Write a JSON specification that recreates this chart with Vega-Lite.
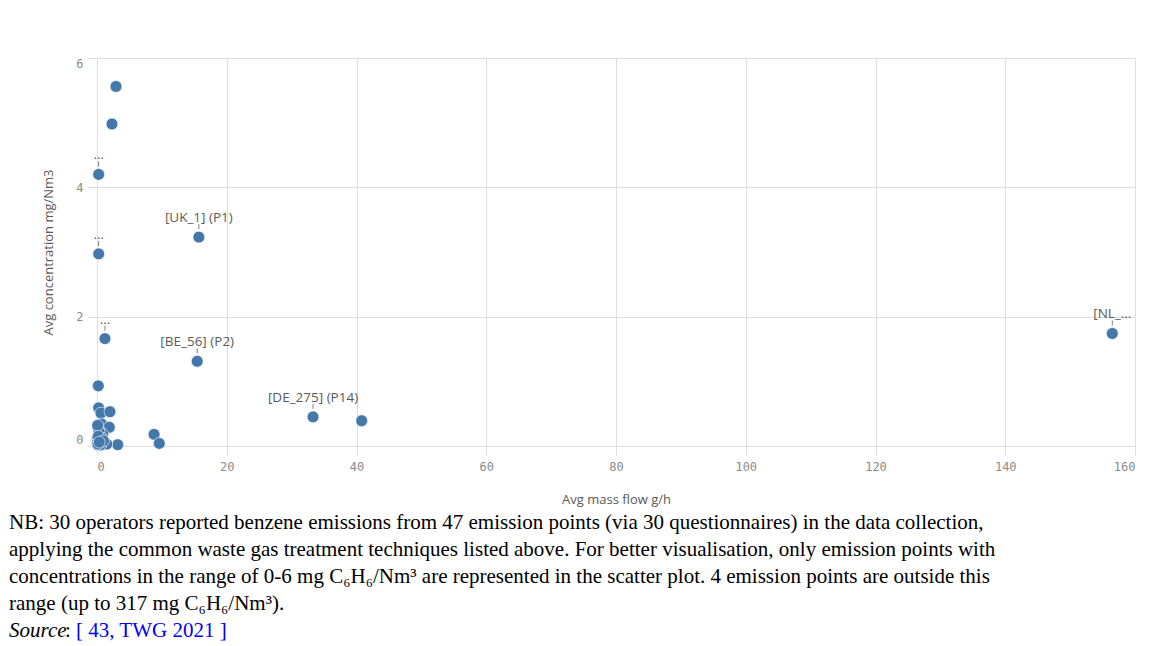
{
  "$schema": "https://vega.github.io/schema/vega-lite/v6.json",
  "background": "white",
  "padding": {"left": 9, "top": 57, "right": 0, "bottom": 0},
  "spacing": 3,
  "config": {"view": {"stroke": null}},
  "vconcat": [
    {
      "width": 1038,
      "height": 388,
      "data": {
        "values": [
          {"flow": 2.93, "conc": 5.56, "label": null},
          {"flow": 2.31, "conc": 4.98, "label": null},
          {"flow": 0.26, "conc": 4.2, "label": "…"},
          {"flow": 15.7, "conc": 3.23, "label": "[UK_1] (P1)"},
          {"flow": 0.26, "conc": 2.97, "label": "…"},
          {"flow": 1.23, "conc": 1.66, "label": "…"},
          {"flow": 15.45, "conc": 1.31, "label": "[BE_56] (P2)"},
          {"flow": 0.2, "conc": 0.93, "label": null},
          {"flow": 0.25, "conc": 0.59, "label": null},
          {"flow": 0.6, "conc": 0.51, "label": null},
          {"flow": 2.0, "conc": 0.53, "label": null},
          {"flow": 0.7, "conc": 0.34, "label": null},
          {"flow": 1.9, "conc": 0.29, "label": null},
          {"flow": 0.57, "conc": 0.21, "label": null},
          {"flow": 8.8, "conc": 0.18, "label": null},
          {"flow": 9.6, "conc": 0.04, "label": null},
          {"flow": 3.2, "conc": 0.02, "label": null},
          {"flow": 1.1, "conc": 0.04, "label": null},
          {"flow": 0.3, "conc": 0.05, "label": null},
          {"flow": 33.3, "conc": 0.45, "label": "[DE_275] (P14)"},
          {"flow": 40.8, "conc": 0.39, "label": null},
          {"flow": 156.5, "conc": 1.74, "label": "[NL_…"},
          {"flow": 0.1, "conc": 0.02, "label": null},
          {"flow": 0.45, "conc": 0.1, "label": null},
          {"flow": 0.15, "conc": 0.28, "label": null},
          {"flow": 0.35, "conc": 0.15, "label": null},
          {"flow": 0.7, "conc": 0.05, "label": null},
          {"flow": 0.2, "conc": 0.01, "label": null},
          {"flow": 1.5, "conc": 0.03, "label": null},
          {"flow": 0.9, "conc": 0.18, "label": null},
          {"flow": 0.25, "conc": 0.08, "label": null},
          {"flow": 0.05, "conc": 0.12, "label": null},
          {"flow": 0.4, "conc": 0.02, "label": null},
          {"flow": 0.3, "conc": 0.22, "label": null},
          {"flow": 0.5, "conc": 0.01, "label": null},
          {"flow": 0.05, "conc": 0.05, "label": null},
          {"flow": 0.8, "conc": 0.12, "label": null},
          {"flow": 0.1, "conc": 0.32, "label": null},
          {"flow": 0.6, "conc": 0.02, "label": null},
          {"flow": 0.2, "conc": 0.15, "label": null},
          {"flow": 1.0, "conc": 0.08, "label": null},
          {"flow": 0.15, "conc": 0.03, "label": null},
          {"flow": 0.35, "conc": 0.06, "label": null}
        ]
      },
      "encoding": {
        "x": {
          "field": "flow",
          "type": "quantitative",
          "scale": {"domain": [0, 160], "nice": false, "zero": false},
          "axis": {
            "values": [0, 20, 40, 60, 80, 100, 120, 140, 160],
            "title": "Avg mass flow g/h",
            "titleFont": "Open Sans",
            "titleFontSize": 13,
            "titleFontWeight": "normal",
            "titleColor": "#595959",
            "titlePadding": 21,
            "labelFont": "DejaVu Sans Mono",
            "labelFontSize": 12,
            "labelColor": "#8c8c8c",
            "labelFlush": true,
            "labelPadding": 6,
            "domain": false,
            "grid": true,
            "gridColor": "#dedede",
            "tickColor": "#dedede",
            "tickSize": 9
          }
        },
        "y": {
          "field": "conc",
          "type": "quantitative",
          "scale": {"domain": [0, 6], "nice": false, "zero": false},
          "axis": {
            "values": [0, 2, 4, 6],
            "title": "Avg concentration mg/Nm3",
            "titleFont": "Open Sans",
            "titleFontSize": 13,
            "titleFontWeight": "normal",
            "titleColor": "#595959",
            "titlePadding": 20,
            "labelFont": "DejaVu Sans Mono",
            "labelFontSize": 12,
            "labelColor": "#8c8c8c",
            "labelFlush": true,
            "labelPadding": 4,
            "domain": false,
            "grid": true,
            "gridColor": "#dedede",
            "tickColor": "#dedede",
            "tickSize": 10
          }
        }
      },
      "layer": [
        {
          "mark": {"type": "circle", "size": 140, "color": "#4477aa", "opacity": 1, "stroke": "#ffffff", "strokeWidth": 0.6}
        },
        {
          "transform": [{"filter": "datum.label != null"}],
          "mark": {"type": "rule", "color": "#7f7f7f", "strokeWidth": 1, "yOffset": -13, "y2Offset": -8},
          "encoding": {"y2": {"field": "conc"}}
        },
        {
          "transform": [{"filter": "datum.label != null"}],
          "mark": {"type": "text", "baseline": "alphabetic", "align": "center", "dy": -15, "font": "Open Sans", "fontSize": 13.5, "color": "#595959"},
          "encoding": {"text": {"field": "label"}}
        }
      ]
    },
    {
      "width": 1038,
      "height": 135,
      "data": {
        "values": [
          {"line": 1, "kind": "plain", "text": "NB: 30 operators reported benzene emissions from 47 emission points (via 30 questionnaires) in the data collection,"},
          {"line": 2, "kind": "plain", "text": "applying the common waste gas treatment techniques listed above. For better visualisation, only emission points with"},
          {"line": 3, "kind": "plain", "text": "concentrations in the range of 0-6 mg C₆H₆/Nm³ are represented in the scatter plot. 4 emission points are outside this"},
          {"line": 4, "kind": "plain", "text": "range (up to 317 mg C₆H₆/Nm³)."},
          {"line": 5, "kind": "italic", "text": "Source"},
          {"line": 5, "kind": "colon", "text": ":"},
          {"line": 5, "kind": "link", "text": "[ 43, TWG 2021 ]"}
        ]
      },
      "encoding": {
        "x": {"value": 0},
        "y": {"field": "line", "type": "quantitative", "scale": {"domain": [0.5, 5.5], "reverse": true}, "axis": null},
        "text": {"field": "text"}
      },
      "layer": [
        {
          "transform": [{"filter": "datum.kind == 'plain'"}],
          "mark": {"type": "text", "align": "left", "baseline": "middle", "dx": -88, "font": "Liberation Serif", "fontSize": 21, "color": "#000000"}
        },
        {
          "transform": [{"filter": "datum.kind == 'italic'"}],
          "mark": {"type": "text", "align": "left", "baseline": "middle", "dx": -88, "font": "Liberation Serif", "fontStyle": "italic", "fontSize": 21, "color": "#000000"}
        },
        {
          "transform": [{"filter": "datum.kind == 'colon'"}],
          "mark": {"type": "text", "align": "left", "baseline": "middle", "dx": -32, "font": "Liberation Serif", "fontSize": 21, "color": "#000000"}
        },
        {
          "transform": [{"filter": "datum.kind == 'link'"}],
          "mark": {"type": "text", "align": "left", "baseline": "middle", "dx": -21, "font": "Liberation Serif", "fontSize": 21, "color": "#0000ff"}
        }
      ]
    }
  ]
}
